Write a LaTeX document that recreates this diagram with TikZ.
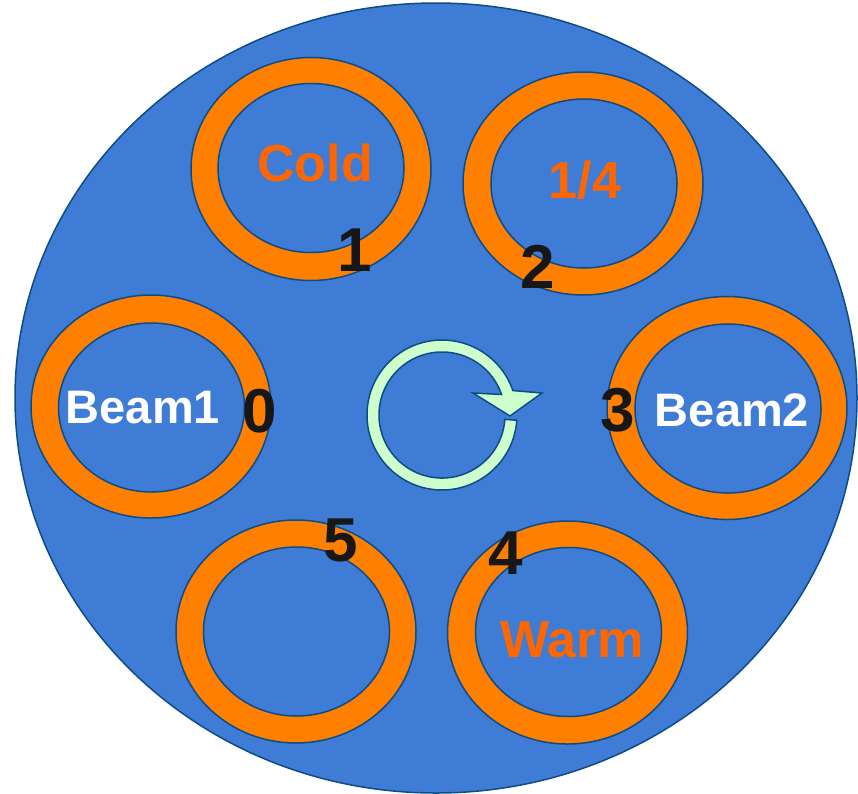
\documentclass[tikz,border=0pt]{standalone}
\usepackage{fontspec}
\setmainfont{Liberation Sans}
\usetikzlibrary{shapes.geometric}
\definecolor{diskblue}{HTML}{3F7CD5}
\definecolor{edgeblue}{HTML}{0D4C85}
\definecolor{ringorange}{HTML}{FF7F00}
\definecolor{textorange}{HTML}{FF6600}
\definecolor{arrowmint}{HTML}{CCFFCC}
\definecolor{numblack}{HTML}{171717}
\begin{document}
\begin{tikzpicture}[x=1pt,y=-1pt,
  disk/.style={ellipse, draw=edgeblue, line width=1.5pt, fill=diskblue, minimum width=842pt, minimum height=790pt, inner sep=0pt},
  outerring/.style={ellipse, draw=edgeblue, line width=1.5pt, fill=ringorange, minimum width=240pt, minimum height=223pt, inner sep=0pt},
  innerring/.style={ellipse, draw=edgeblue, line width=1.5pt, fill=diskblue, minimum width=186pt, minimum height=169pt, inner sep=0pt},
  orangetext/.style={text=textorange, font=\bfseries\fontsize{52pt}{52pt}\selectfont, inner sep=0pt},
  beamtext/.style={text=white, font=\bfseries\fontsize{47pt}{47pt}\selectfont, inner sep=0pt},
  numtext/.style={text=numblack, font=\bfseries\fontsize{62pt}{62pt}\selectfont, inner sep=0pt},
  rotarrow/.style={fill=arrowmint, draw=edgeblue, line width=1.5pt, line join=miter}]
\useasboundingbox (0,0) rectangle (858,793);
\node[disk] (disk) at (436,398) {};
% rings
\node[outerring] (r1o) at (311,169) {};
\node[innerring] (r1i) at (311,168) {};
\node[outerring] (r2o) at (583,183.5) {};
\node[innerring] (r2i) at (584,183.5) {};
\node[outerring] (r0o) at (151,406.5) {};
\node[innerring] (r0i) at (151.5,407.5) {};
\node[outerring] (r3o) at (727,408) {};
\node[innerring] (r3i) at (728,408.5) {};
\node[outerring] (r5o) at (296,631.5) {};
\node[innerring] (r5i) at (296.5,631.5) {};
\node[outerring] (r4o) at (567.5,632.5) {};
\node[innerring] (r4i) at (568.5,632) {};
% ring texts
\node[orangetext] (cold) at (315,163) {Cold};
\node[orangetext] (quarter) at (585,180) {1/4};
\node[beamtext] (beam1) at (143,408) {Beam1};
\node[beamtext] (beam2) at (732,410) {Beam2};
\node[orangetext] (warm) at (572,640) {Warm};
% rotation arrow
\coordinate (rc) at (442,415);
\path[rotarrow] (rc) ++(4:75) arc[start angle=4, end angle=341, radius=75]
  -- (542,393) -- (510,416) -- (473,393)
  -- ([shift={(341:63)}]rc) arc[start angle=341, end angle=4, radius=63] -- cycle;
% position numbers
\node[numtext] (n1) at (355,250) {1};
\node[numtext] (n2) at (538,267) {2};
\node[numtext] (n0) at (260,411) {0};
\node[numtext] (n3) at (618,410) {3};
\node[numtext] (n4) at (506,553) {4};
\node[numtext] (n5) at (341,540) {5};
\end{tikzpicture}
\end{document}
